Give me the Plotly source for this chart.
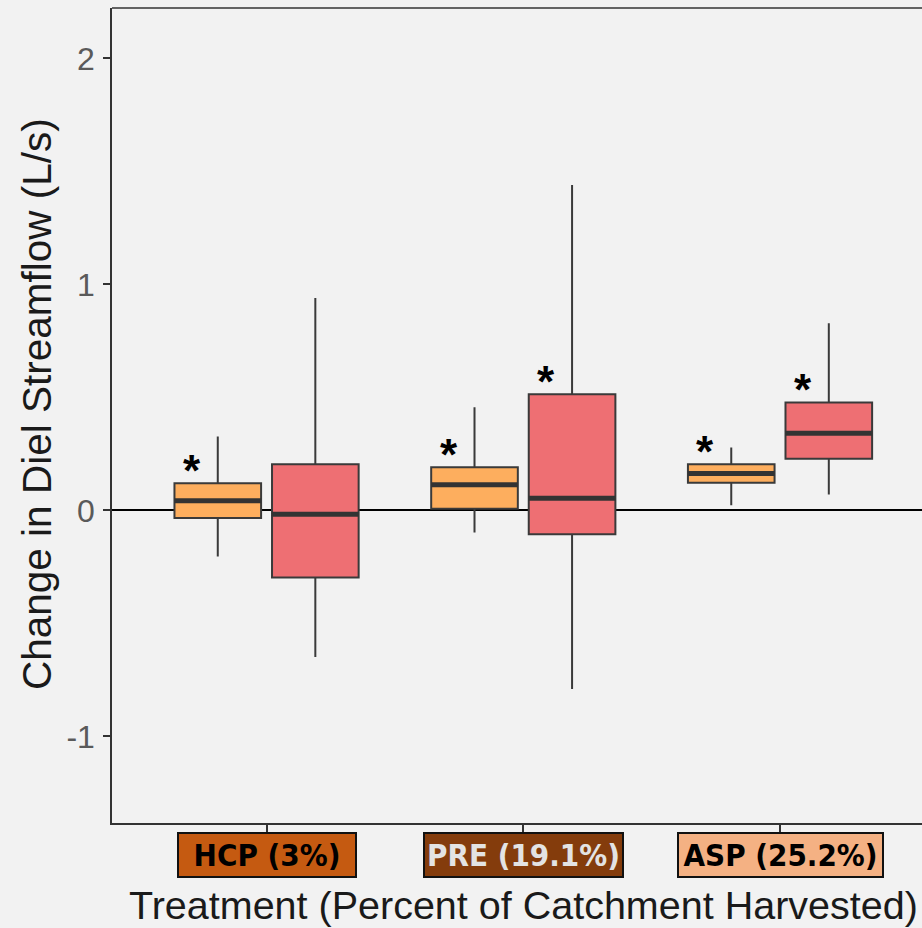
import plotly.graph_objects as go

# ---------------- data ----------------
categories = ["HCP", "PRE", "ASP"]
category_labels = ["HCP (3%)", "PRE (19.1%)", "ASP (25.2%)"]

# series 1 (orange boxes)
s1_lower = [-0.204, -0.098, 0.023]
s1_q1 = [-0.033, 0.007, 0.122]
s1_median = [0.043, 0.114, 0.163]
s1_q3 = [0.120, 0.191, 0.204]
s1_upper = [0.327, 0.457, 0.278]
s1_sig = [True, True, True]

# series 2 (red boxes)
s2_lower = [-0.648, -0.790, 0.071]
s2_q1 = [-0.297, -0.105, 0.229]
s2_median = [-0.017, 0.054, 0.341]
s2_q3 = [0.204, 0.514, 0.478]
s2_upper = [0.940, 1.440, 0.828]
s2_sig = [False, True, True]

y_ticks = [-1, 0, 1, 2]
y_tick_text = ["-1", "0", "1", "2"]

# ---------------- layout constants ----------------
W, H = 922, 928
ML, MR, MT, MB = 112, 0, 8, 105
plot_w = W - ML - MR
plot_h = H - MT - MB
x_range = [-0.602, 2.553]
y_range = [-1.383, 2.223]
boxgap = 0.24
boxgroupgap = 0.112

px_per_cat = plot_w / (x_range[1] - x_range[0])
slot_px = px_per_cat * (1 - boxgap) / 2
box_off_px = slot_px / 2
box_half_px = slot_px * (1 - boxgroupgap) / 2

BG = "#F2F2F2"
AX = "#333333"
FONT = "Liberation Sans, Arial, sans-serif"
ORANGE = "#FDAE5E"
RED = "#EE6F73"
label_bg = ["#C55A11", "#843C0C", "#F4B183"]
label_fg = ["#000000", "#E3E3E3", "#000000"]
label_w = [172, 193, 199]

fig = go.Figure()
for name, lo, q1, med, q3, up, col in [
    ("series 1", s1_lower, s1_q1, s1_median, s1_q3, s1_upper, ORANGE),
    ("series 2", s2_lower, s2_q1, s2_median, s2_q3, s2_upper, RED),
]:
    fig.add_trace(go.Box(
        name=name, x=categories, q1=q1, median=med, q3=q3,
        lowerfence=lo, upperfence=up,
        fillcolor=col, line=dict(color="#3a3a3a", width=2),
        whiskerwidth=0, boxpoints=False, showlegend=False,
        hoverinfo="skip",
    ))

shapes = []
annotations = []
for sidx, (med_list, q3_list, sig_list) in enumerate(
        [(s1_median, s1_q3, s1_sig), (s2_median, s2_q3, s2_sig)]):
    off = -box_off_px if sidx == 0 else box_off_px
    for i, cat in enumerate(categories):
        shapes.append(dict(
            type="line", xref="x", yref="y", xsizemode="pixel", xanchor=i,
            x0=off - box_half_px, x1=off + box_half_px,
            y0=med_list[i], y1=med_list[i],
            line=dict(color="#333333", width=5), layer="above",
        ))
        if sig_list[i]:
            annotations.append(dict(
                x=i, y=q3_list[i], xref="x", yref="y", text="<b>*</b>",
                showarrow=False, xshift=off - 26, yshift=13,
                font=dict(family=FONT, size=44, color="#000000"),
                xanchor="center", yanchor="middle",
            ))

# top frame line
shapes.append(dict(type="line", xref="paper", yref="paper", x0=0, x1=1, y0=1, y1=1,
                   line=dict(color=AX, width=1.5)))

for i, lab in enumerate(category_labels):
    annotations.append(dict(
        x=i, y=0, xref="x", yref="paper", yshift=-32, text="<b>" + lab + "</b>",
        showarrow=False, xanchor="center", yanchor="middle",
        width=label_w[i], height=38,
        font=dict(family="Liberation Sans Narrow, DejaVu Sans Condensed, Arial Narrow, sans-serif",
                  size=31, color=label_fg[i]),
        bgcolor=label_bg[i], bordercolor="#111111", borderwidth=2, borderpad=2,
    ))

annotations.append(dict(
    x=1, y=0, xref="x", yref="paper", yshift=-82,
    text="Treatment (Percent of Catchment Harvested)", showarrow=False,
    xanchor="center", yanchor="middle",
    font=dict(family=FONT, size=39.5, color="#1a1a1a"),
))

annotations.append(dict(
    x=(37 - ML) / plot_w, y=(plot_h + MT - 404) / plot_h, xref="paper", yref="paper",
    text="Change in Diel Streamflow (L/s)", textangle=-90, showarrow=False,
    xanchor="center", yanchor="middle",
    font=dict(family=FONT, size=40.5, color="#1a1a1a"),
))

fig.update_layout(
    width=W, height=H,
    margin=dict(l=ML, r=MR, t=MT, b=MB, pad=0),
    paper_bgcolor=BG, plot_bgcolor=BG,
    boxmode="group", boxgap=boxgap, boxgroupgap=boxgroupgap,
    showlegend=False,
    shapes=shapes, annotations=annotations,
    xaxis=dict(
        type="category", categoryorder="array", categoryarray=categories,
        range=x_range, showgrid=False, zeroline=False,
        showline=True, linecolor=AX, linewidth=1.5,
        ticks="outside", ticklen=7, tickcolor=AX, tickwidth=1.5,
        showticklabels=False,
    ),
    yaxis=dict(
        range=y_range, tickvals=y_ticks, ticktext=y_tick_text, showgrid=False,
        zeroline=True, zerolinecolor="#000000", zerolinewidth=1.5,
        showline=True, linecolor=AX, linewidth=1.5,
        ticks="outside", ticklen=7, tickcolor=AX, tickwidth=1.5,
        tickfont=dict(family=FONT, size=32, color="#5a5a5a"),
        ticklabelstandoff=2,
    ),
)

fig.write_html(
    "out.html",
    config={"displayModeBar": False},
    post_script="document.documentElement.style.background='#F2F2F2';"
                "document.body.style.margin='0';document.body.style.background='#F2F2F2';"
                "document.body.style.overflow='hidden';",
)
